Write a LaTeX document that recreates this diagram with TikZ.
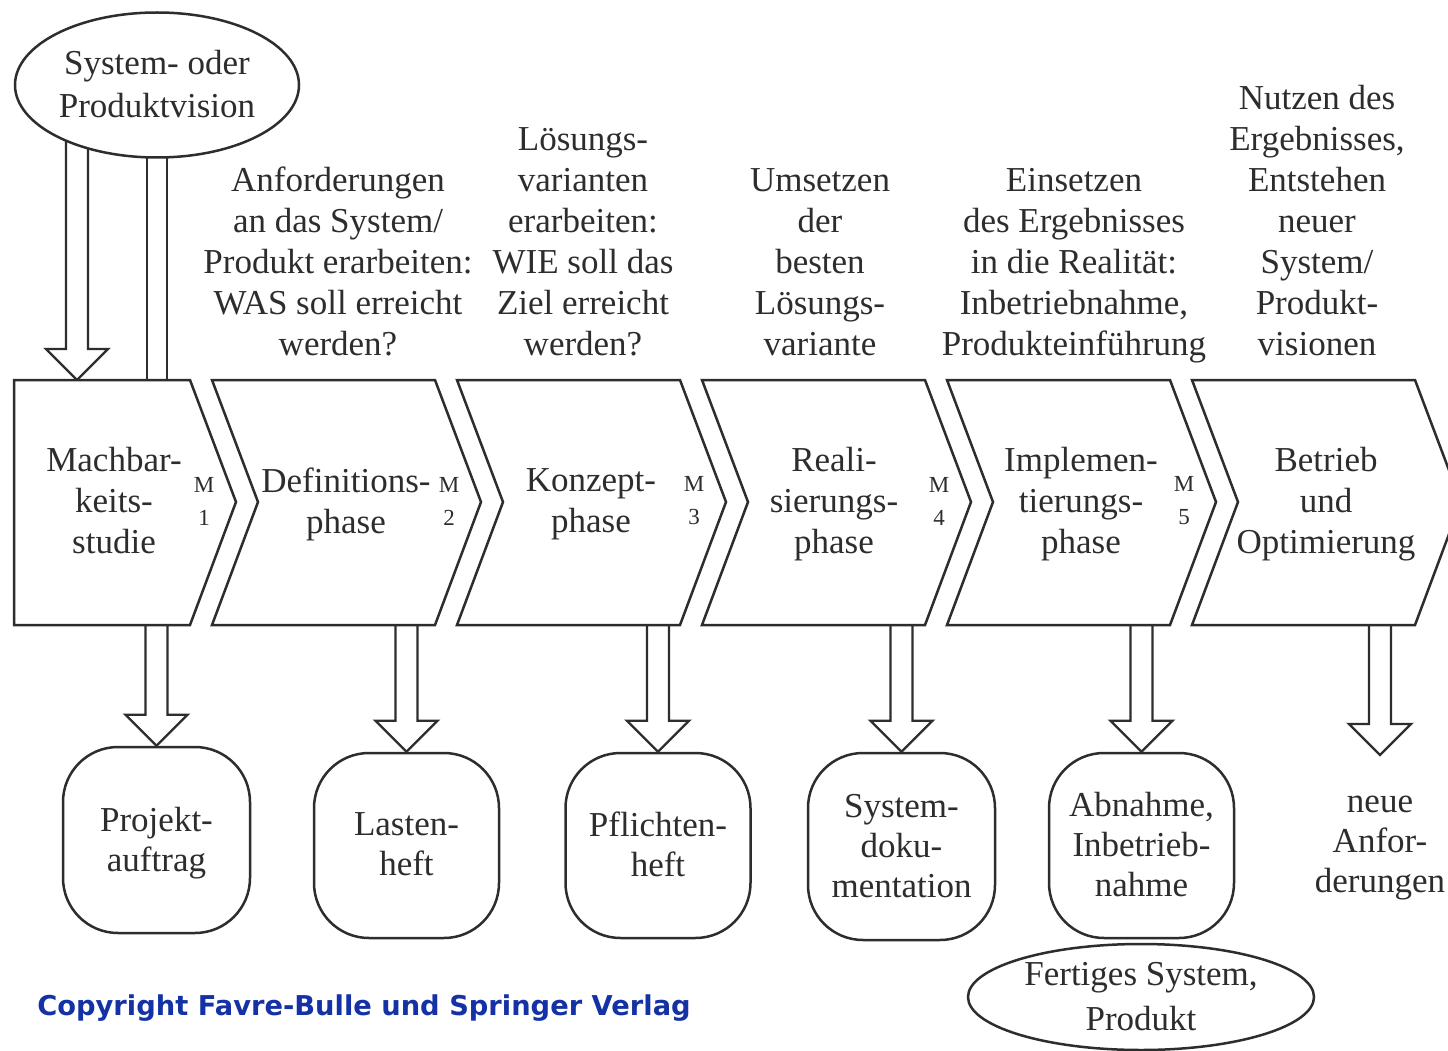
\documentclass[tikz,border=0pt]{standalone}
\usepackage{fontspec}
\setmainfont{Liberation Serif}
\newfontfamily\copyfont{DejaVu Sans}
\usetikzlibrary{shapes.geometric,calc,backgrounds}
\definecolor{ink}{RGB}{45,45,45}
\definecolor{copyblue}{RGB}{20,50,165}

% hollow block arrow pointing down: shaft from the y of #1 to the tip at #2
\newcommand\hollowdown[2]{%
  \draw[hollow] let \p1=(#1), \p2=(#2) in
    (\x2-11pt,\y1) -- (\x2-11pt,\y2+31pt) -- (\x2-31pt,\y2+31pt) -- (\x2,\y2)
    -- (\x2+31pt,\y2+31pt) -- (\x2+11pt,\y2+31pt) -- (\x2+11pt,\y1);}

\begin{document}
\begin{tikzpicture}[x=1pt,y=-1pt,
  outline/.style={draw=ink, line width=2.5pt, line join=miter, fill=white},
  hollow/.style={draw=ink, line width=2.3pt, line join=miter, fill=white},
  txt/.style={text=ink, font=\fontsize{35}{41}\selectfont, align=center,
    inner sep=0pt, yshift=-5pt, execute at begin node=\strut, execute at end node=\strut},
  boxtxt/.style={txt, font=\fontsize{35}{40}\selectfont},
  milestone/.style={text=ink, font=\fontsize{23}{33}\selectfont, align=center, inner sep=0pt},
  docbox/.style={outline, rounded corners=55pt, minimum width=185pt,
    minimum height=185pt, inner sep=0pt},
  vision/.style={outline, ellipse, inner sep=0pt},
]
\useasboundingbox (0,0) rectangle (1448,1051);

% phase chevrons
\draw[outline] (14,380) -- (190,380) -- (236,502) -- (190,625) -- (14,625) -- cycle;
\foreach \i in {2,...,6} {
  \pgfmathsetmacro\R{190+(\i-1)*245}
  \pgfmathsetmacro\L{\R-223}
  \draw[outline] (\L,380) -- (\R,380) -- (\R+46,502) -- (\R,625) -- (\L,625)
    -- (\L+46,502) -- cycle;
}

% phase names
\node[txt] (p1) at (114,502) {Machbar-\\keits-\\studie};
\node[txt] (p2) at (346,502) {Definitions-\\phase};
\node[txt] (p3) at (591,502) {Konzept-\\phase};
\node[txt] (p4) at (834,502) {Reali-\\sierungs-\\phase};
\node[txt] (p5) at (1081,502) {Implemen-\\tierungs-\\phase};
\node[txt] (p6) at (1326,502) {Betrieb\\und\\Optimierung};

% milestones
\foreach \i in {1,...,5} {
  \pgfmathsetmacro\R{190+(\i-1)*245}
  \node[milestone] (m\i) at (\R+14,501) {M\\\i};
}

% goals of the phases
\node[txt, anchor=south] (t2) at (338,363)
  {Anforderungen\\an das System/\\Produkt erarbeiten:\\WAS soll erreicht\\werden?};
\node[txt, anchor=south] (t3) at (583,363)
  {Lösungs-\\varianten\\erarbeiten:\\WIE soll das\\Ziel erreicht\\werden?};
\node[txt, anchor=south] (t4) at (820,363)
  {Umsetzen\\der\\besten\\Lösungs-\\variante};
\node[txt, anchor=south] (t5) at (1074,363)
  {Einsetzen\\des Ergebnisses\\in die Realität:\\Inbetriebnahme,\\Produkteinführung};
\node[txt, anchor=south] (t6) at (1317,363)
  {Nutzen des\\Ergebnisses,\\Entstehen\\neuer\\System/\\Produkt-\\visionen};

% vision ellipse
\node[vision, minimum width=284pt, minimum height=145pt] (vis) at (157,85) {};
\node[txt, font=\fontsize{35}{43}\selectfont] (vistext) at (vis.center) {System- oder\\Produktvision};

% documents of the phases
\node[docbox, minimum width=187pt, minimum height=186pt] (b1) at (156.5,840) {};
\node[boxtxt] at (b1.center) {Projekt-\\auftrag};
\node[docbox] (b2) at (406.5,845.5) {};
\node[boxtxt] at (b2.center) {Lasten-\\heft};
\node[docbox] (b3) at (658,845.5) {};
\node[boxtxt] at (b3.center) {Pflichten-\\heft};
\node[docbox, minimum width=187pt, minimum height=187pt] (b4) at (901.5,846.5) {};
\node[boxtxt] at (b4.center) {System-\\doku-\\mentation};
\node[docbox] (b5) at (1141.5,845.5) {};
\node[boxtxt] at (b5.center) {Abnahme,\\Inbetrieb-\\nahme};
\node[boxtxt] (n6) at (1380,845) {neue\\Anfor-\\derungen};
\coordinate (n6tip) at (1380,755);

% final product
\node[vision, minimum width=346pt, minimum height=106pt] (fertig) at (1141,997) {};
\node[txt, font=\fontsize{35}{45}\selectfont, yshift=-1pt] (fertigtext) at (fertig.center) {Fertiges System,\\Produkt};

\node[text=copyblue, font=\copyfont\bfseries\fontsize{27.3}{30}\selectfont, inner sep=0pt]
  (copy) at (364,1008) {Copyright Favre-Bulle und Springer Verlag};

% block arrows behind the shapes
\begin{scope}[on background layer]
  \fill[white] (0,0) rectangle (1448,1051);
  \coordinate (c1in) at (77,380);
  \coordinate (c1out) at (157,380);
  \hollowdown{vis.center}{c1in}
  \draw[hollow] let \p1=(c1out), \p2=(vis.center) in
    (\x1-10pt,\y1) -- (\x1-10pt,\y2) -- (\x1+10pt,\y2) -- (\x1+10pt,\y1);
  \foreach \b/\x in {b1/156, b2/407, b3/658, b4/902, b5/1141} {
    \coordinate (s\b) at (\x,625);
    \hollowdown{s\b}{\b.north}
  }
  \coordinate (s6) at (1380,625);
  \hollowdown{s6}{n6tip}
\end{scope}
\end{tikzpicture}
\end{document}
